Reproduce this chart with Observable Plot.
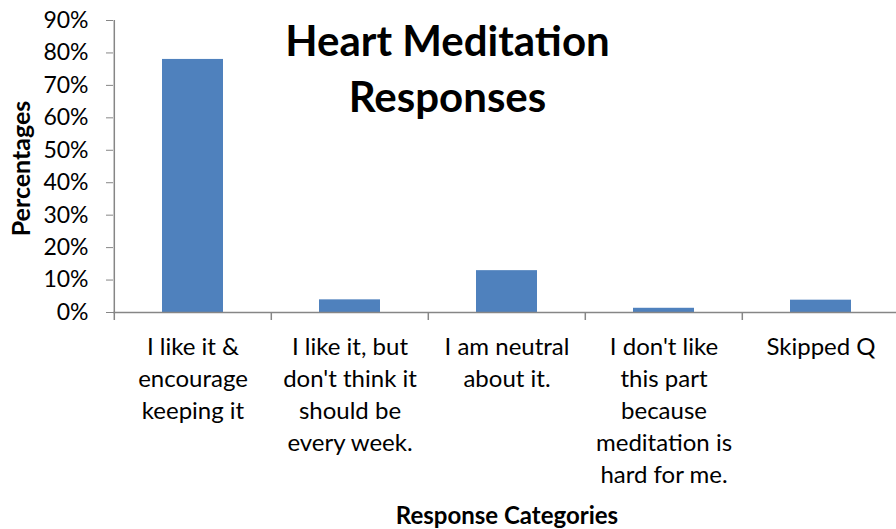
<!DOCTYPE html>
<html><head><meta charset="utf-8">
<script src="https://cdn.jsdelivr.net/npm/d3@7"></script>
<script src="https://cdn.jsdelivr.net/npm/@observablehq/plot@0.6"></script>
<style>
body{margin:0;background:#fff;}
#chart{width:896px;height:529px;overflow:hidden;}
</style></head><body><div id="chart"></div>
<script>
const categories = [
  "I like it &\nencourage\nkeeping it",
  "I like it, but\ndon't think it\nshould be\nevery week.",
  "I am neutral\nabout it.",
  "I don't like\nthis part\nbecause\nmeditation is\nhard for me.",
  "Skipped Q"
];
const values = [0.78, 0.039, 0.129, 0.013, 0.038];
const yTicks = [0, 0.1, 0.2, 0.3, 0.4, 0.5, 0.6, 0.7, 0.8, 0.9];
const titleLines = ["Heart Meditation", "Responses"];
const yLabel = "Percentages";
const xLabel = "Response Categories";

const data = categories.map((c, i) => ({category: c, value: values[i]}));

const W = 896, H = 529, mL = 113, mR = -4, mT = 20, mB = 217;
const step = (W - mR - mL) / categories.length;
const font = "Lato, 'Open Sans', sans-serif";
const axisColor = "#868686";

const plot = Plot.plot({
  width: W, height: H,
  marginLeft: mL, marginRight: mR, marginTop: mT, marginBottom: mB,
  style: {fontFamily: font, background: "white", color: "#000"},
  x: {type: "band", domain: categories, padding: 0, axis: null},
  y: {domain: [0, 0.9], axis: null},
  marks: [
    Plot.barY(data, {x: "category", y: "value", fill: "#4f81bd", insetLeft: 48, insetRight: 48}),
    // y axis line
    Plot.ruleX([categories[0]], {x: d => d, y1: 0, y2: 0.9, dx: -step / 2, stroke: axisColor, strokeWidth: 1.5}),
    // y ticks + labels
    Plot.axisY(yTicks, {tickSize: 7, tickPadding: 18, tickFormat: d3.format(".0%"), fontSize: 23, label: null, stroke: axisColor, fill: "#000"}),
    // x axis line
    Plot.ruleY([0], {stroke: axisColor, strokeWidth: 1.5}),
    // x boundary ticks
    Plot.ruleX(categories, {x: d => d, y1: 0, y2: 0, insetBottom: -8, dx: -step / 2, stroke: axisColor, strokeWidth: 1.5}),
    // x category labels
    Plot.text(data, {x: "category", y: 0, text: "category", lineAnchor: "top", lineHeight: 32 / 24, fontSize: 24, dy: 20, fill: "#000"}),
    // title
    Plot.text([titleLines.join("\n")], {frameAnchor: "top", lineAnchor: "top", lineHeight: 56 / 42, fontSize: 42, fontWeight: "bold", dx: -59.5, dy: -4, fill: "#000"}),
    // y label
    Plot.text([yLabel], {frameAnchor: "left", textAnchor: "middle", lineAnchor: "middle", rotate: -90, fontSize: 25, fontWeight: "bold", dx: -92, dy: 2, fill: "#000"}),
    // x label
    Plot.text([xLabel], {frameAnchor: "bottom", lineAnchor: "bottom", fontSize: 24, fontWeight: "bold", dy: 211, fill: "#000"})
  ]
});
document.getElementById("chart").appendChild(plot);
</script>
</body></html>
